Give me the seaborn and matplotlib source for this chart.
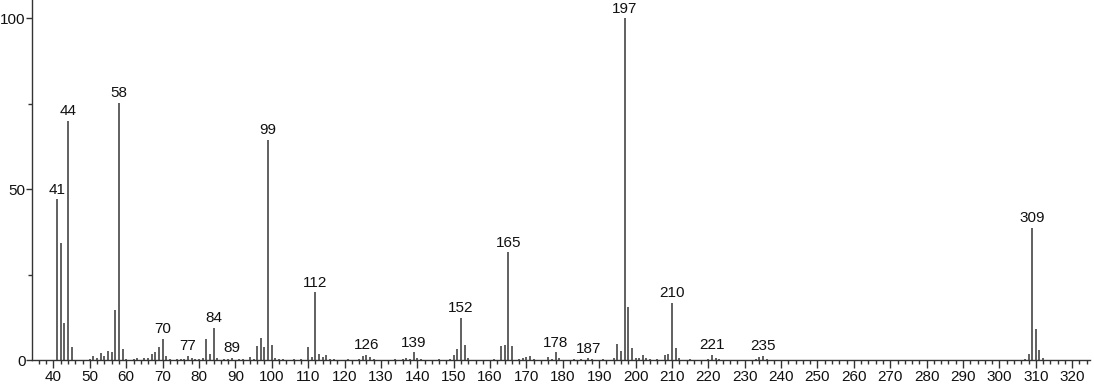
import matplotlib
matplotlib.use("Agg")
import matplotlib.pyplot as plt
import seaborn as sns
from matplotlib.ticker import MultipleLocator

# m/z values and relative intensities
mz = [41, 42, 43, 44, 45, 50, 51, 52, 53, 54, 55, 56, 57, 58, 59, 60, 62, 63, 65, 66,
      67, 68, 69, 70, 71, 72, 74, 75, 76, 77, 78, 79, 80, 81, 82, 83, 84, 85, 87, 88,
      89, 91, 92, 94, 95, 96, 97, 98, 99, 100, 101, 102, 103, 106, 108, 110, 111, 112, 113, 114,
      115, 116, 117, 121, 124, 125, 126, 127, 128, 134, 136, 137, 138, 139, 140, 141, 146, 149, 150, 151,
      152, 153, 154, 161, 163, 164, 165, 166, 168, 169, 170, 171, 172, 176, 177, 178, 179, 183, 185, 187,
      188, 191, 194, 195, 196, 197, 198, 199, 200, 201, 202, 203, 204, 206, 208, 209, 210, 211, 212, 215,
      220, 221, 222, 223, 233, 234, 235, 236, 307, 308, 309, 310, 311, 312]
intensity = [47.0, 34.4, 10.7, 70.0, 3.7, 0.4, 1.3, 0.5, 2.0, 1.3, 2.6, 2.2, 14.6, 75.3, 3.1, 0.4, 0.4, 0.7, 0.5, 0.5,
             1.8, 2.2, 3.9, 6.1, 1.1, 0.3, 0.3, 0.4, 0.4, 1.1, 0.5, 0.4, 0.3, 0.5, 6.2, 1.8, 9.3, 0.5, 0.4, 0.4,
             0.7, 0.4, 0.3, 0.8, 0.4, 4.2, 6.4, 3.8, 64.5, 4.4, 0.6, 0.4, 0.3, 0.3, 0.3, 3.7, 0.9, 19.8, 1.8, 0.9,
             1.6, 0.4, 0.3, 0.3, 0.4, 1.2, 1.4, 1.0, 0.3, 0.3, 0.4, 0.6, 0.4, 2.2, 0.5, 0.3, 0.3, 0.4, 1.5, 3.3,
             12.4, 4.4, 0.5, 0.3, 4.1, 4.3, 31.5, 4.1, 0.4, 0.7, 0.8, 1.3, 0.4, 1.0, 0.4, 2.2, 0.5, 0.3, 0.4, 0.5,
             0.3, 0.3, 0.5, 4.6, 2.6, 100.0, 15.6, 3.4, 0.7, 0.5, 1.6, 0.7, 0.3, 0.3, 1.5, 1.7, 16.7, 3.4, 0.5, 0.3,
             0.3, 1.5, 0.7, 0.4, 0.3, 0.8, 1.2, 0.4, 0.4, 1.7, 38.7, 9.1, 3.0, 0.5]
labeled_peaks = [41, 44, 58, 70, 77, 84, 89, 99, 112, 126, 139, 152, 165, 178, 187, 197, 210, 221, 235, 309]

sns.set_theme(style="ticks")
plt.rcParams["font.family"] = ["Liberation Sans", "DejaVu Sans"]

fig = plt.figure(figsize=(10.94, 3.84), dpi=100)
ax = fig.add_axes([32 / 1094, 24 / 384, 1058 / 1094, 360 / 384])

ax.vlines(mz, 0, intensity, colors="#454545", linewidth=1.2)

lookup = dict(zip(mz, intensity))
for p in labeled_peaks:
    ax.annotate(str(p), xy=(p, lookup[p]), xytext=(0, 2), textcoords="offset points",
                ha="center", va="bottom", fontsize=11, color="#111111")

ax.set_xlim(34.1, 324.9)
ax.set_ylim(0, 105.4)
ax.xaxis.set_major_locator(MultipleLocator(10))
ax.xaxis.set_minor_locator(MultipleLocator(2))
ax.yaxis.set_major_locator(MultipleLocator(50))
ax.yaxis.set_minor_locator(MultipleLocator(25))
ax.tick_params(axis="x", which="major", length=6, width=1, color="#333333",
               labelsize=11, labelcolor="#111111", pad=1)
ax.tick_params(axis="y", which="major", length=4, width=1, color="#333333",
               labelsize=11, labelcolor="#111111", pad=0.5)
ax.tick_params(axis="both", which="minor", length=3, width=1, color="#333333")
sns.despine(ax=ax)
for s in ["left", "bottom"]:
    ax.spines[s].set_color("#333333")
    ax.spines[s].set_linewidth(1)

fig.savefig("out.png", dpi=100)
